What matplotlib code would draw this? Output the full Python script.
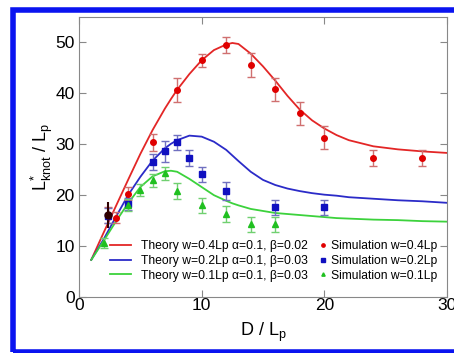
# longitud del nudo L*_knot / L_p frente a D / L_p: teoria y simulacion
import numpy as np
import matplotlib.pyplot as plt
from matplotlib.patches import Rectangle

plt.rcParams['font.family'] = ['Liberation Sans', 'DejaVu Sans']
plt.rcParams['mathtext.fontset'] = 'custom'
plt.rcParams['mathtext.rm'] = 'Liberation Sans'
plt.rcParams['mathtext.it'] = 'Liberation Sans'

# curvas teoricas
x_th = [1, 2, 3, 4, 5, 6, 7, 7.5, 8, 9, 10, 11, 12, 12.5, 13, 14, 15, 16, 17, 18, 19, 20,
        21, 22, 24, 26, 28, 30]
th_04 = [7.3, 12.6, 17.8, 23.0, 28.1, 32.8, 37.0, 38.9, 40.7, 43.8, 46.5, 48.5, 49.6, 49.9,
         49.7, 47.8, 45.3, 42.5, 39.5, 36.8, 34.7, 33.1, 31.8, 30.8, 29.6, 29.0, 28.6, 28.3]
th_02 = [7.3, 11.3, 15.7, 20.0, 23.6, 26.8, 29.2, 30.1, 30.8, 31.7, 31.5, 30.5, 28.9, 27.8,
         26.7, 24.6, 23.0, 22.0, 21.3, 20.8, 20.4, 20.1, 19.9, 19.6, 19.3, 19.0, 18.8, 18.5]
th_01 = [7.3, 11.0, 14.8, 18.4, 21.6, 23.7, 24.7, 24.8, 24.6, 23.2, 21.6, 20.0, 18.9, 18.4,
         18.0, 17.3, 16.9, 16.5, 16.3, 16.1, 15.9, 15.7, 15.5, 15.4, 15.2, 15.1, 14.9, 14.8]

# puntos de simulacion
x_s04 = [2.4, 3, 4, 6, 8, 10, 12, 14, 16, 18, 20, 24, 28]
y_s04 = [16.1, 15.6, 20.3, 30.4, 40.7, 46.5, 49.5, 45.6, 40.8, 36.1, 31.3, 27.3, 27.3]
e_s04 = [1.5, 1.0, 1.3, 1.7, 2.3, 1.3, 1.5, 2.3, 2.3, 2.3, 2.3, 1.5, 1.5]

x_s02 = [2.4, 4, 6, 7, 8, 9, 10, 12, 16, 20]
y_s02 = [16.0, 18.3, 26.5, 28.6, 30.4, 27.3, 24.1, 20.8, 17.6, 17.6]
e_s02 = [1.5, 1.2, 1.6, 2.0, 1.5, 1.5, 1.5, 1.8, 1.5, 1.5]

x_s01 = [2, 4, 5, 6, 7, 8, 10, 12, 14, 16]
y_s01 = [10.6, 18.0, 21.0, 22.9, 24.3, 20.8, 18.0, 16.3, 14.3, 14.3]
e_s01 = [1.0, 1.2, 1.2, 1.3, 1.3, 1.5, 1.5, 1.5, 1.5, 1.5]

# punto negro
x_blk = [2.4]
y_blk = [16.1]
e_blk = [2.6]

c_red = '#e32626'
c_blue = '#2b2bc8'
c_green = '#3cd23c'

fig = plt.figure(figsize=(4.54, 3.53), dpi=100)
ax = fig.add_axes([79/454, 56/353, 368/454, 280/353])

l1, = ax.plot(x_th, th_04, color=c_red, lw=1.3)
l2, = ax.plot(x_th, th_02, color=c_blue, lw=1.3)
l3, = ax.plot(x_th, th_01, color=c_green, lw=1.3)

p1 = ax.errorbar(x_s04, y_s04, yerr=e_s04, fmt='o', color='#e00000', ms=4, ecolor='#d07070',
                 elinewidth=1, capsize=3)
p2 = ax.errorbar(x_s02, y_s02, yerr=e_s02, fmt='s', color='#1010c0', ms=3.8, ecolor='#7070c0',
                 elinewidth=1, capsize=3)
p3 = ax.errorbar(x_s01, y_s01, yerr=e_s01, fmt='^', color='#20c020', ms=4, ecolor='#70d070',
                 elinewidth=1, capsize=3)
ax.errorbar(x_blk, y_blk, yerr=e_blk, fmt='o', color='#300000', ms=5, elinewidth=1.5)

ax.set_xlim(0, 30)
ax.set_ylim(0, 55)
ax.set_xticks([0, 10, 20, 30])
ax.set_yticks([0, 10, 20, 30, 40, 50])
for s in ax.spines.values():
    s.set_color('#888888')
ax.tick_params(axis='x', direction='in', top=True, length=5, color='#888888', labelsize=12.5, pad=1)
ax.tick_params(axis='y', direction='in', right=True, length=5, color='#888888', labelsize=12.5, pad=3)

ax.set_xlabel(r'D / L$_\mathregular{p}$', fontsize=13, labelpad=5)
ax.set_ylabel(r'L$^\mathregular{*}_\mathregular{knot}$ / L$_\mathregular{p}$', fontsize=13, labelpad=0)

lab_th = ['Theory w=0.4Lp α=0.1, β=0.02', 'Theory w=0.2Lp α=0.1, β=0.03',
          'Theory w=0.1Lp α=0.1, β=0.03']
lab_sim = ['Simulation w=0.4Lp', 'Simulation w=0.2Lp', 'Simulation w=0.1Lp']

leg1 = ax.legend([l1, l2, l3], lab_th, loc='center left', frameon=False, fontsize=8.7,
                 handlelength=1.7, handletextpad=0.9, labelspacing=0.22, borderpad=0,
                 borderaxespad=0, bbox_to_anchor=(110/454, 92/353),
                 bbox_transform=fig.transFigure)
ax.add_artist(leg1)
ax.legend([p1[0], p2[0], p3[0]], lab_sim, loc='center left', frameon=False, fontsize=8.7,
          handlelength=0.8, handletextpad=0.3, labelspacing=0.22, borderpad=0,
          borderaxespad=0, markerscale=0.6, bbox_to_anchor=(318/454, 92/353),
          bbox_transform=fig.transFigure)

# marco azul
fig.patches.append(Rectangle((12.5/454, 1.5/353), 1.0, 341.5/353, transform=fig.transFigure,
                             fill=False, edgecolor='#0a14f0', lw=4))

fig.savefig('out.png', dpi=100)
